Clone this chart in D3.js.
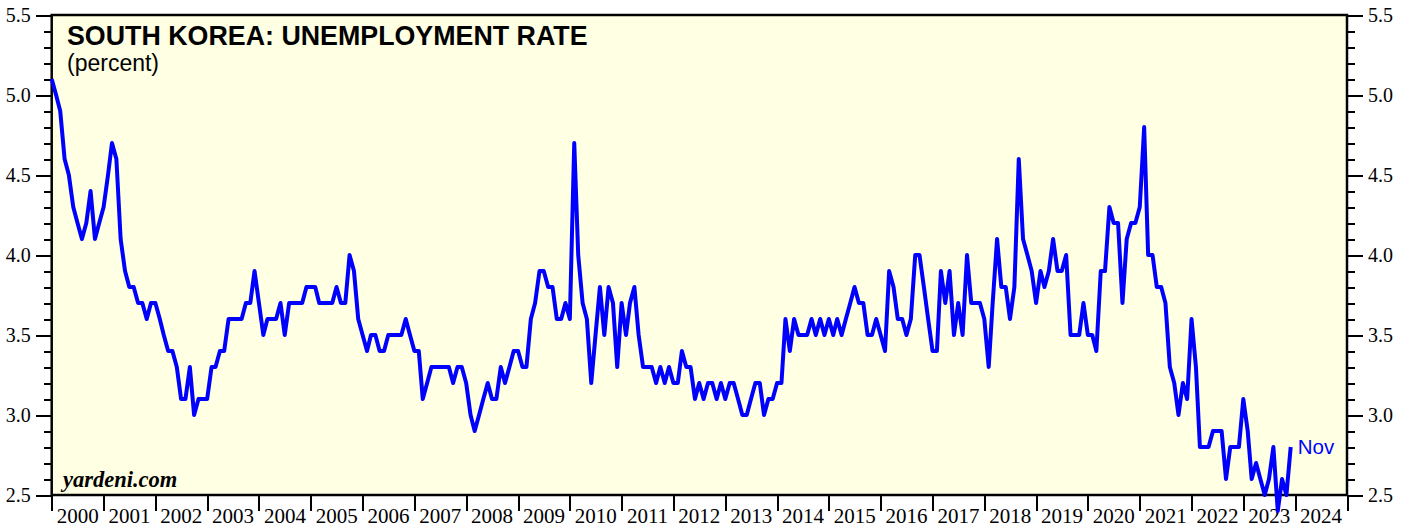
<!DOCTYPE html>
<meta charset="utf-8">
<style>
body { margin: 0; background: #fff; }
.axis text { font: 20px "Liberation Serif", "Times New Roman", serif; fill: #000; }
.axis line, .axis path { fill: none; stroke: #000; stroke-width: 2; shape-rendering: crispEdges; }
.years text { font-size: 21px; }
</style>
<body>
<script src="https://d3js.org/d3.v7.min.js"></script>
<script>
// monthly unemployment rate, Dec 1999 .. Nov 2023 (plotted at month end)
var firstMonth = new Date(1999, 11, 1);
var rates = [
  5.1,
  5.0,4.9,4.6,4.5,4.3,4.2,4.1,4.2,4.4,4.1,4.2,4.3, // 2000
  4.5,4.7,4.6,4.1,3.9,3.8,3.8,3.7,3.7,3.6,3.7,3.7, // 2001
  3.6,3.5,3.4,3.4,3.3,3.1,3.1,3.3,3.0,3.1,3.1,3.1, // 2002
  3.3,3.3,3.4,3.4,3.6,3.6,3.6,3.6,3.7,3.7,3.9,3.7, // 2003
  3.5,3.6,3.6,3.6,3.7,3.5,3.7,3.7,3.7,3.7,3.8,3.8, // 2004
  3.8,3.7,3.7,3.7,3.7,3.8,3.7,3.7,4.0,3.9,3.6,3.5, // 2005
  3.4,3.5,3.5,3.4,3.4,3.5,3.5,3.5,3.5,3.6,3.5,3.4, // 2006
  3.4,3.1,3.2,3.3,3.3,3.3,3.3,3.3,3.2,3.3,3.3,3.2, // 2007
  3.0,2.9,3.0,3.1,3.2,3.1,3.1,3.3,3.2,3.3,3.4,3.4, // 2008
  3.3,3.3,3.6,3.7,3.9,3.9,3.8,3.8,3.6,3.6,3.7,3.6, // 2009
  4.7,4.0,3.7,3.6,3.2,3.5,3.8,3.5,3.8,3.7,3.3,3.7, // 2010
  3.5,3.7,3.8,3.5,3.3,3.3,3.3,3.2,3.3,3.2,3.3,3.2, // 2011
  3.2,3.4,3.3,3.3,3.1,3.2,3.1,3.2,3.2,3.1,3.2,3.1, // 2012
  3.2,3.2,3.1,3.0,3.0,3.1,3.2,3.2,3.0,3.1,3.1,3.2, // 2013
  3.2,3.6,3.4,3.6,3.5,3.5,3.5,3.6,3.5,3.6,3.5,3.6, // 2014
  3.5,3.6,3.5,3.6,3.7,3.8,3.7,3.7,3.5,3.5,3.6,3.5, // 2015
  3.4,3.9,3.8,3.6,3.6,3.5,3.6,4.0,4.0,3.8,3.6,3.4, // 2016
  3.4,3.9,3.7,3.9,3.5,3.7,3.5,4.0,3.7,3.7,3.7,3.6, // 2017
  3.3,3.7,4.1,3.8,3.8,3.6,3.8,4.6,4.1,4.0,3.9,3.7, // 2018
  3.9,3.8,3.9,4.1,3.9,3.9,4.0,3.5,3.5,3.5,3.7,3.5, // 2019
  3.5,3.4,3.9,3.9,4.3,4.2,4.2,3.7,4.1,4.2,4.2,4.3, // 2020
  4.8,4.0,4.0,3.8,3.8,3.7,3.3,3.2,3.0,3.2,3.1,3.6, // 2021
  3.3,2.8,2.8,2.8,2.9,2.9,2.9,2.6,2.8,2.8,2.8,3.1, // 2022
  2.9,2.6,2.7,2.6,2.5,2.6,2.8,2.4,2.6,2.5,2.8      // 2023
];
var years = d3.range(2000, 2025);
var yMinor = d3.range(25, 56).map(function(d) { return d / 10; });
var lastLabel = "Nov";

var W = 1413, H = 529;
var m = {left: 51.7, right: 1347, top: 15, bottom: 495};

var data = rates.map(function(v, i) {
  return {date: d3.timeMonth.offset(firstMonth, i + 1), value: v};
});

var x = d3.scaleTime()
    .domain([new Date(2000, 0, 1), new Date(2025, 0, 1)])
    .range([m.left, m.right]);

var y = d3.scaleLinear()
    .domain([2.5, 5.5])
    .range([m.bottom, m.top]);

var svg = d3.select("body").append("svg")
    .attr("width", W)
    .attr("height", H);

svg.append("rect")
    .attr("x", m.left).attr("y", m.top)
    .attr("width", m.right - m.left).attr("height", m.bottom - m.top)
    .attr("fill", "#ffffe3");

function isMajor(d) { return Math.abs(d * 2 - Math.round(d * 2)) < 1e-6; }
function fmt(d) { return isMajor(d) ? d3.format(".1f")(d) : ""; }

// left axis
var gl = svg.append("g")
    .attr("class", "axis")
    .attr("transform", "translate(" + m.left + ",0)")
    .call(d3.axisLeft(y).tickValues(yMinor).tickSizeOuter(0).tickFormat(fmt));
gl.select(".domain").remove();
gl.selectAll(".tick line").attr("x2", function(d) { return isMajor(d) ? -16 : -8; });
gl.selectAll(".tick text").attr("x", -21);

// right axis
var gr = svg.append("g")
    .attr("class", "axis")
    .attr("transform", "translate(" + m.right + ",0)")
    .call(d3.axisRight(y).tickValues(yMinor).tickSizeOuter(0).tickFormat(fmt));
gr.select(".domain").remove();
gr.selectAll(".tick line").attr("x2", function(d) { return isMajor(d) ? 16 : 8; });
gr.selectAll(".tick text").attr("x", 21);

// bottom axis: year ticks, labels centred in each year
var gb = svg.append("g")
    .attr("class", "axis")
    .attr("transform", "translate(0," + m.bottom + ")")
    .call(d3.axisBottom(x)
      .tickValues(years.concat([2025]).map(function(yr) { return new Date(yr, 0, 1); }))
      .tickSize(16).tickSizeOuter(0).tickFormat(""));
gb.select(".domain").remove();

svg.append("g").attr("class", "axis years")
  .selectAll("text")
  .data(years)
  .enter().append("text")
    .attr("x", function(d) { return (x(new Date(d, 0, 1)) + x(new Date(d + 1, 0, 1))) / 2; })
    .attr("y", 523)
    .attr("text-anchor", "middle")
    .text(function(d) { return d; });

// frame
svg.append("rect")
    .attr("x", m.left).attr("y", m.top)
    .attr("width", m.right - m.left).attr("height", m.bottom - m.top)
    .attr("fill", "none")
    .attr("stroke", "#000")
    .attr("stroke-width", 2.5);

// titles
svg.append("text")
    .attr("x", 67).attr("y", 45)
    .style("font", "bold 26.8px 'Liberation Sans', Arial, sans-serif")
    .text("SOUTH KOREA: UNEMPLOYMENT RATE");
svg.append("text")
    .attr("x", 67).attr("y", 71)
    .style("font", "23px 'Liberation Sans', Arial, sans-serif")
    .text("(percent)");
svg.append("text")
    .attr("x", 63).attr("y", 487)
    .style("font", "italic bold 22.5px 'Liberation Serif', 'Times New Roman', serif")
    .text("yardeni.com");

// the line
var line = d3.line()
    .x(function(d) { return x(d.date); })
    .y(function(d) { return y(d.value); });

svg.append("path")
    .datum(data)
    .attr("fill", "none")
    .attr("stroke", "#0000ff")
    .attr("stroke-width", 4)
    .attr("stroke-linejoin", "round")
    .attr("d", line);

var last = data[data.length - 1];
svg.append("text")
    .attr("x", x(last.date) + 7)
    .attr("y", y(last.value) + 7)
    .attr("fill", "#0000ff")
    .style("font", "20.5px 'Liberation Sans', Arial, sans-serif")
    .text(lastLabel);
</script>
